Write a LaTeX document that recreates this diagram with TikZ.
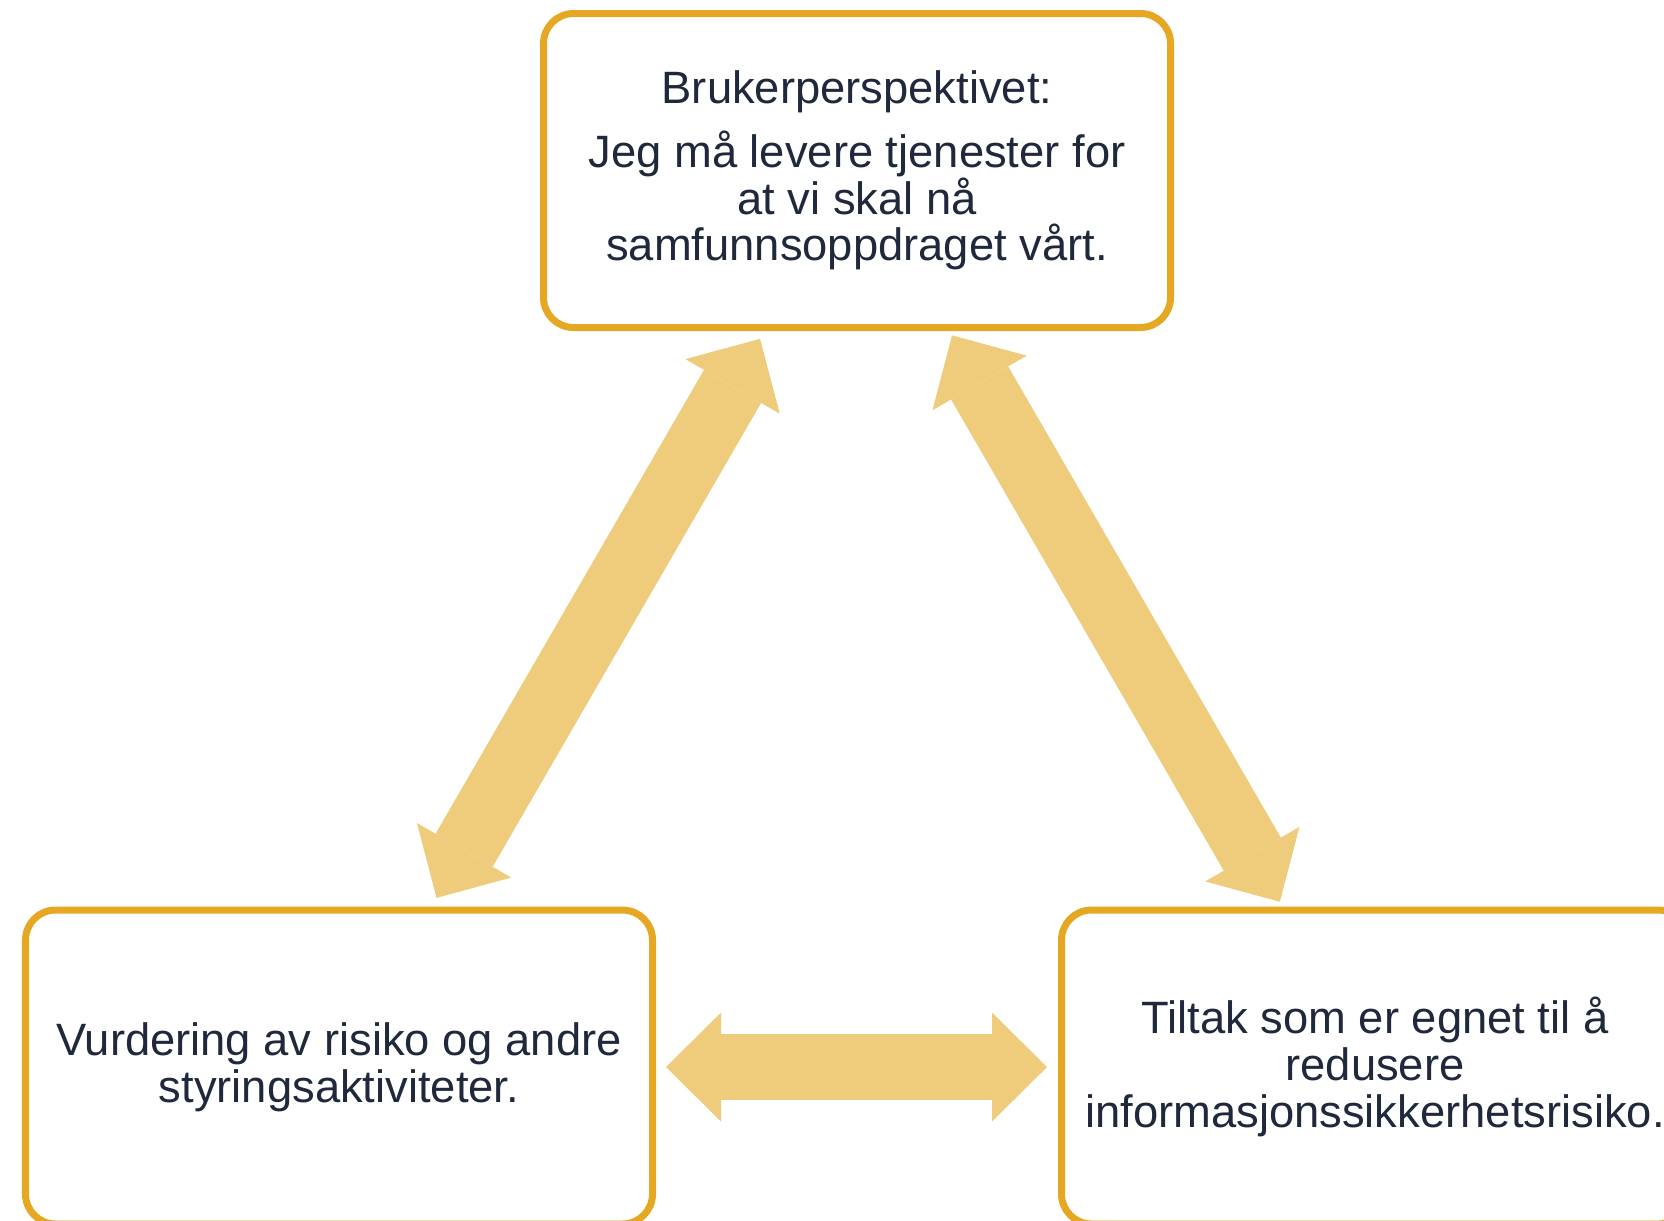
\documentclass[tikz,border=0pt]{standalone}
\usepackage{fontspec}
\setmainfont{Liberation Sans}
\usetikzlibrary{arrows.meta}
\definecolor{boxgold}{RGB}{230, 168, 35}
\definecolor{arrowgold}{RGB}{238, 204, 124}
\definecolor{textnavy}{RGB}{31, 41, 59}

\begin{document}
\begin{tikzpicture}[
  rbox/.style={draw=boxgold, line width=0.07cm, rounded corners=0.3cm, fill=white, minimum width=6.27cm, minimum height=3.14cm, align=center, text=textnavy, font=\fontsize{12.9}{13.3}\selectfont},
  link/.style={draw=arrowgold, line width=0.66cm, {Triangle[width=1.09cm, length=0.55cm, line width=0pt]}-{Triangle[width=1.09cm, length=0.55cm, line width=0pt]}}
]
  \useasboundingbox (0, 0) rectangle (16.64, -12.2);

  \node[rbox] (topbox) at (8.57, -1.705) {
    Brukerperspektivet:\\[4.8pt]
    Jeg må levere tjenester for\\
    at vi skal nå\\
    samfunnsoppdraget vårt.
  };

  \node[rbox] (leftbox) at (3.39, -10.67) {
    Vurdering av risiko og andre\\
    styringsaktiviteter.
  };

  \node[rbox] (rightbox) at (13.75, -10.67) {
    Tiltak som er egnet til å\\
    redusere\\
    informasjonssikkerhetsrisiko.
  };

  \draw[link, shorten <=0.1cm, shorten >=0.09cm] (leftbox) -- (topbox);
  \draw[link, shorten <=0.05cm, shorten >=0.055cm] (topbox) -- (rightbox);
  \draw[link, shorten <=0.1cm, shorten >=0.11cm] (leftbox) -- (rightbox);
\end{tikzpicture}
\end{document}
